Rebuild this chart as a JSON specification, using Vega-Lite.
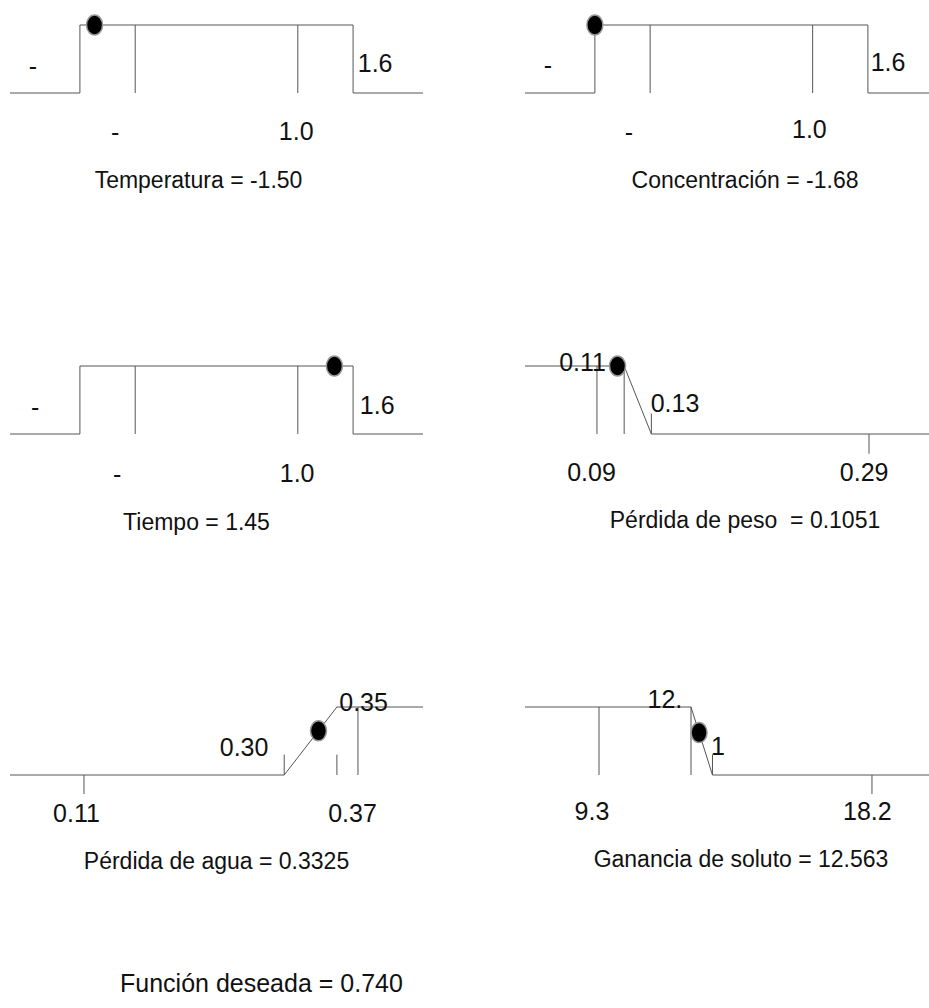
{
  "$schema": "https://vega.github.io/schema/vega-lite/v6.json",
  "padding": {"left": 8, "top": 12, "right": 0, "bottom": 0},
  "background": "white",
  "config": {
    "view": {"stroke": null},
    "font": "Liberation Sans",
    "text": {"font": "Liberation Sans", "fontSize": 25, "color": "#111", "align": "center", "baseline": "middle"},
    "line": {"color": "#555", "strokeWidth": 1},
    "rule": {"color": "#555", "strokeWidth": 1},
    "title": {"font": "Liberation Sans", "fontSize": 23, "fontWeight": "normal", "color": "#111", "orient": "bottom", "offset": 24, "frame": "group", "anchor": "middle"}
  },
  "title": {"text": "Función deseada = 0.740", "orient": "bottom", "anchor": "start", "frame": "group", "offset": 98, "dx": 110, "fontSize": 25},
  "bounds": "flush",
  "spacing": 341,
  "vconcat": [
    {
      "bounds": "flush",
      "spacing": 102,
      "hconcat": [
        {
          "width": 413, "height": 68,
          "title": {"text": "Temperatura = -1.50", "dx": -18},
          "encoding": {
            "x": {"field": "x", "type": "quantitative", "scale": {"domain": [-2.54, 2.54], "nice": false, "zero": false}, "axis": null},
            "y": {"field": "d", "type": "quantitative", "scale": {"domain": [0, 1], "nice": false}, "axis": null}
          },
          "layer": [
            {"data": {"values": [{"i": 0, "x": -2.54, "d": 0}, {"i": 1, "x": -1.68, "d": 0}, {"i": 2, "x": -1.68, "d": 1}, {"i": 3, "x": 1.68, "d": 1}, {"i": 4, "x": 1.68, "d": 0}, {"i": 5, "x": 2.54, "d": 0}]},
             "mark": "line", "encoding": {"order": {"field": "i"}}},
            {"data": {"values": [{"x": -1.0, "d0": 0, "d1": 1}, {"x": 1.0, "d0": 0, "d1": 1}]},
             "mark": "rule", "encoding": {"y": {"field": "d0", "type": "quantitative"}, "y2": {"field": "d1"}}},
            {"data": {"values": [{"x": -1.5, "d": 1}]},
             "mark": {"type": "point", "filled": true, "fill": "#000", "stroke": "#999", "strokeWidth": 1.5, "opacity": 1, "size": 400, "shape": "M0,-1C0.45,-1 0.8,-0.55 0.8,0C0.8,0.55 0.45,1 0,1C-0.45,1 -0.8,0.55 -0.8,0C-0.8,-0.55 -0.45,-1 0,-1Z"}},
            {"data": {"values": [{"x": -2.257, "d": 0.38, "t": "-"}, {"x": 1.951, "d": 0.43, "t": "1.6"}, {"x": -1.248, "d": -0.59, "t": "-"}, {"x": 0.98, "d": -0.57, "t": "1.0"}]},
             "mark": "text", "encoding": {"text": {"field": "t"}}}
          ]
        },
        {
          "width": 404, "height": 68,
          "title": {"text": "Concentración = -1.68", "dx": 18},
          "encoding": {
            "x": {"field": "x", "type": "quantitative", "scale": {"domain": [-2.54, 2.432], "nice": false, "zero": false}, "axis": null},
            "y": {"field": "d", "type": "quantitative", "scale": {"domain": [0, 1], "nice": false}, "axis": null}
          },
          "layer": [
            {"data": {"values": [{"i": 0, "x": -2.54, "d": 0}, {"i": 1, "x": -1.68, "d": 0}, {"i": 2, "x": -1.68, "d": 1}, {"i": 3, "x": 1.68, "d": 1}, {"i": 4, "x": 1.68, "d": 0}, {"i": 5, "x": 2.432, "d": 0}]},
             "mark": "line", "encoding": {"order": {"field": "i"}}},
            {"data": {"values": [{"x": -1.0, "d0": 0, "d1": 1}, {"x": 1.0, "d0": 0, "d1": 1}]},
             "mark": "rule", "encoding": {"y": {"field": "d0", "type": "quantitative"}, "y2": {"field": "d1"}}},
            {"data": {"values": [{"x": -1.68, "d": 1}]},
             "mark": {"type": "point", "filled": true, "fill": "#000", "stroke": "#999", "strokeWidth": 1.5, "opacity": 1, "size": 400, "shape": "M0,-1C0.45,-1 0.8,-0.55 0.8,0C0.8,0.55 0.45,1 0,1C-0.45,1 -0.8,0.55 -0.8,0C-0.8,-0.55 -0.45,-1 0,-1Z"}},
            {"data": {"values": [{"x": -2.257, "d": 0.4, "t": "-"}, {"x": 1.928, "d": 0.44, "t": "1.6"}, {"x": -1.26, "d": -0.59, "t": "-"}, {"x": 0.96, "d": -0.55, "t": "1.0"}]},
             "mark": "text", "encoding": {"text": {"field": "t"}}}
          ]
        }
      ]
    },
    {
      "bounds": "flush",
      "spacing": 102,
      "hconcat": [
        {
          "width": 413, "height": 68,
          "title": {"text": "Tiempo = 1.45", "dx": -20},
          "encoding": {
            "x": {"field": "x", "type": "quantitative", "scale": {"domain": [-2.54, 2.54], "nice": false, "zero": false}, "axis": null},
            "y": {"field": "d", "type": "quantitative", "scale": {"domain": [0, 1], "nice": false}, "axis": null}
          },
          "layer": [
            {"data": {"values": [{"i": 0, "x": -2.54, "d": 0}, {"i": 1, "x": -1.68, "d": 0}, {"i": 2, "x": -1.68, "d": 1}, {"i": 3, "x": 1.68, "d": 1}, {"i": 4, "x": 1.68, "d": 0}, {"i": 5, "x": 2.54, "d": 0}]},
             "mark": "line", "encoding": {"order": {"field": "i"}}},
            {"data": {"values": [{"x": -1.0, "d0": 0, "d1": 1}, {"x": 1.0, "d0": 0, "d1": 1}]},
             "mark": "rule", "encoding": {"y": {"field": "d0", "type": "quantitative"}, "y2": {"field": "d1"}}},
            {"data": {"values": [{"x": 1.45, "d": 1}]},
             "mark": {"type": "point", "filled": true, "fill": "#000", "stroke": "#999", "strokeWidth": 1.5, "opacity": 1, "size": 400, "shape": "M0,-1C0.45,-1 0.8,-0.55 0.8,0C0.8,0.55 0.45,1 0,1C-0.45,1 -0.8,0.55 -0.8,0C-0.8,-0.55 -0.45,-1 0,-1Z"}},
            {"data": {"values": [{"x": -2.232, "d": 0.38, "t": "-"}, {"x": 1.977, "d": 0.41, "t": "1.6"}, {"x": -1.223, "d": -0.6, "t": "-"}, {"x": 0.992, "d": -0.59, "t": "1.0"}]},
             "mark": "text", "encoding": {"text": {"field": "t"}}}
          ]
        },
        {
          "width": 404, "height": 68,
          "title": {"text": "Pérdida de peso \u00a0= 0.1051", "dx": 18},
          "encoding": {
            "x": {"field": "x", "type": "quantitative", "scale": {"domain": [0.0371, 0.3341], "nice": false, "zero": false}, "axis": null},
            "y": {"field": "d", "type": "quantitative", "scale": {"domain": [0, 1], "nice": false}, "axis": null}
          },
          "layer": [
            {"data": {"values": [{"i": 0, "x": 0.0371, "d": 1}, {"i": 1, "x": 0.11, "d": 1}, {"i": 2, "x": 0.13, "d": 0}, {"i": 3, "x": 0.3341, "d": 0}]},
             "mark": "line", "encoding": {"order": {"field": "i"}}},
            {"data": {"values": [{"x": 0.09, "d0": 0, "d1": 1}, {"x": 0.11, "d0": 0, "d1": 1}, {"x": 0.13, "d0": 0, "d1": 0.3}, {"x": 0.29, "d0": 0, "d1": -0.29}]},
             "mark": "rule", "encoding": {"y": {"field": "d0", "type": "quantitative"}, "y2": {"field": "d1"}}},
            {"data": {"values": [{"x": 0.1051, "d": 1}]},
             "mark": {"type": "point", "filled": true, "fill": "#000", "stroke": "#999", "strokeWidth": 1.5, "opacity": 1, "size": 400, "shape": "M0,-1C0.45,-1 0.8,-0.55 0.8,0C0.8,0.55 0.45,1 0,1C-0.45,1 -0.8,0.55 -0.8,0C-0.8,-0.55 -0.45,-1 0,-1Z"}},
            {"data": {"values": [{"x": 0.0794, "d": 1.05, "t": "0.11"}, {"x": 0.1474, "d": 0.44, "t": "0.13"}, {"x": 0.086, "d": -0.57, "t": "0.09"}, {"x": 0.2864, "d": -0.57, "t": "0.29"}]},
             "mark": "text", "encoding": {"text": {"field": "t"}}}
          ]
        }
      ]
    },
    {
      "bounds": "flush",
      "spacing": 102,
      "hconcat": [
        {
          "width": 413, "height": 68,
          "title": {"text": "Pérdida de agua = 0.3325", "dx": 0},
          "encoding": {
            "x": {"field": "x", "type": "quantitative", "scale": {"domain": [0.0398, 0.4317], "nice": false, "zero": false}, "axis": null},
            "y": {"field": "d", "type": "quantitative", "scale": {"domain": [0, 1], "nice": false}, "axis": null}
          },
          "layer": [
            {"data": {"values": [{"i": 0, "x": 0.0398, "d": 0}, {"i": 1, "x": 0.3, "d": 0}, {"i": 2, "x": 0.35, "d": 1}, {"i": 3, "x": 0.4317, "d": 1}]},
             "mark": "line", "encoding": {"order": {"field": "i"}}},
            {"data": {"values": [{"x": 0.11, "d0": 0, "d1": -0.28}, {"x": 0.3, "d0": 0, "d1": 0.3}, {"x": 0.35, "d0": 0, "d1": 0.3}, {"x": 0.37, "d0": 0, "d1": 1}]},
             "mark": "rule", "encoding": {"y": {"field": "d0", "type": "quantitative"}, "y2": {"field": "d1"}}},
            {"data": {"values": [{"x": 0.3325, "d": 0.65}]},
             "mark": {"type": "point", "filled": true, "fill": "#000", "stroke": "#999", "strokeWidth": 1.5, "opacity": 1, "size": 400, "shape": "M0,-1C0.45,-1 0.8,-0.55 0.8,0C0.8,0.55 0.45,1 0,1C-0.45,1 -0.8,0.55 -0.8,0C-0.8,-0.55 -0.45,-1 0,-1Z"}},
            {"data": {"values": [{"x": 0.3753, "d": 1.06, "t": "0.35"}, {"x": 0.2619, "d": 0.4, "t": "0.30"}, {"x": 0.1029, "d": -0.57, "t": "0.11"}, {"x": 0.3648, "d": -0.57, "t": "0.37"}]},
             "mark": "text", "encoding": {"text": {"field": "t"}}}
          ]
        },
        {
          "width": 404, "height": 68,
          "title": {"text": "Ganancia de soluto = 12.563", "dx": 14},
          "encoding": {
            "x": {"field": "x", "type": "quantitative", "scale": {"domain": [6.887, 20.06], "nice": false, "zero": false}, "axis": null},
            "y": {"field": "d", "type": "quantitative", "scale": {"domain": [0, 1], "nice": false}, "axis": null}
          },
          "layer": [
            {"data": {"values": [{"i": 0, "x": 6.887, "d": 1}, {"i": 1, "x": 12.3, "d": 1}, {"i": 2, "x": 13.0, "d": 0}, {"i": 3, "x": 20.06, "d": 0}]},
             "mark": "line", "encoding": {"order": {"field": "i"}}},
            {"data": {"values": [{"x": 9.3, "d0": 0, "d1": 1}, {"x": 12.3, "d0": 0, "d1": 1}, {"x": 13.0, "d0": 0, "d1": 0.3}, {"x": 18.2, "d0": 0, "d1": -0.28}]},
             "mark": "rule", "encoding": {"y": {"field": "d0", "type": "quantitative"}, "y2": {"field": "d1"}}},
            {"data": {"values": [{"x": 12.563, "d": 0.624}]},
             "mark": {"type": "point", "filled": true, "fill": "#000", "stroke": "#999", "strokeWidth": 1.5, "opacity": 1, "size": 400, "shape": "M0,-1C0.45,-1 0.8,-0.55 0.8,0C0.8,0.55 0.45,1 0,1C-0.45,1 -0.8,0.55 -0.8,0C-0.8,-0.55 -0.45,-1 0,-1Z"}},
            {"data": {"values": [{"x": 11.45, "d": 1.1, "t": "12."}, {"x": 13.18, "d": 0.41, "t": "1"}, {"x": 9.07, "d": -0.54, "t": "9.3"}, {"x": 18.05, "d": -0.54, "t": "18.2"}]},
             "mark": "text", "encoding": {"text": {"field": "t"}}}
          ]
        }
      ]
    }
  ]
}
